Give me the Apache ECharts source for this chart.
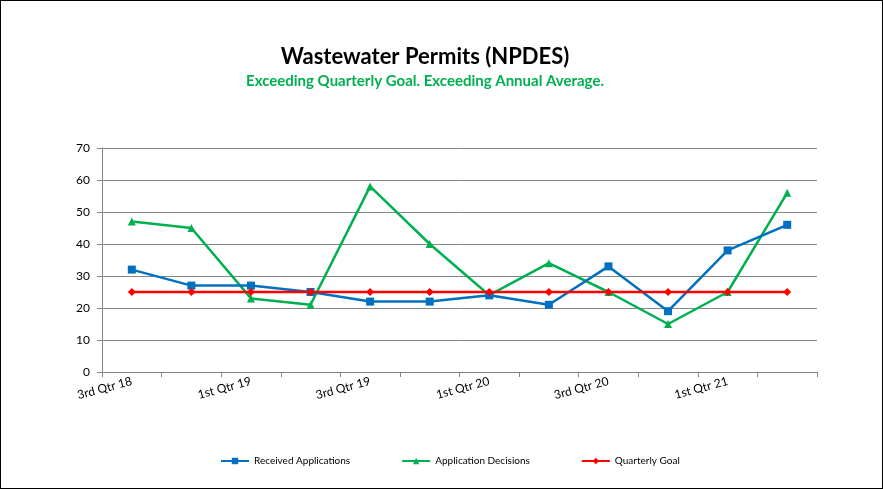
<!DOCTYPE html>
<html>
<head>
<meta charset="utf-8">
<script src="https://cdn.jsdelivr.net/npm/echarts@6/dist/echarts.min.js"></script>
<style>
html,body{margin:0;padding:0;background:#fff;}
#c{position:absolute;left:0;top:0;width:881px;height:487px;border:1px solid #000;}
</style>
</head>
<body>
<div id="c"></div>
<script>
const categories = ["3rd Qtr 18","4th Qtr 18","1st Qtr 19","2nd Qtr 19","3rd Qtr 19","4th Qtr 19","1st Qtr 20","2nd Qtr 20","3rd Qtr 20","4th Qtr 20","1st Qtr 21","2nd Qtr 21"];
const received = [32,27,27,25,22,22,24,21,33,19,38,46];
const decisions = [47,45,23,21,58,40,24,34,25,15,25,56];
const goal = [25,25,25,25,25,25,25,25,25,25,25,25];
const yTicks = [0,10,20,30,40,50,60,70];

const font = "Lato, 'Open Sans', sans-serif";
const chart = echarts.init(document.getElementById('c'));
chart.setOption({
  animation:false,
  textStyle:{fontFamily:font},
  title:[{
    text:"Wastewater Permits (NPDES)",
    left:419, top:40, textAlign:'center',
    textStyle:{fontSize:22,fontWeight:'bold',color:'#000',fontFamily:font},
    subtext:"Exceeding Quarterly Goal. Exceeding Annual Average.",
    subtextStyle:{fontSize:15,fontWeight:'bold',color:'#00B050',fontFamily:font},
    itemGap:6
  }],
  legend:{
    bottom:17, left:214,
    itemWidth:28, itemHeight:8, itemGap:51,
    textStyle:{fontSize:10,color:'#000',fontFamily:font},
    data:["Received Applications","Application Decisions","Quarterly Goal"]
  },
  grid:{left:101,right:65,top:147,bottom:116,containLabel:false},
  xAxis:{
    type:'category', data:categories, boundaryGap:true,
    axisLine:{lineStyle:{color:'#868686',width:1}},
    axisTick:{show:true,alignWithLabel:false,length:5,interval:0,lineStyle:{color:'#868686'}},
    axisLabel:{interval:1,rotate:15,fontSize:12,color:'#000',margin:9,fontFamily:font}
  },
  yAxis:{
    type:'value', min:0, max:70, interval:10,
    axisLine:{show:true,lineStyle:{color:'#868686',width:1}},
    axisTick:{show:true,length:5,lineStyle:{color:'#868686'}},
    axisLabel:{fontSize:12,color:'#000',margin:12,fontFamily:font,
      formatter:function(v){return yTicks.indexOf(v)>=0?String(v):'';}},
    splitLine:{lineStyle:{color:'#868686',width:1}}
  },
  series:[
    {name:"Received Applications",type:'line',data:received,
     symbol:'rect',symbolSize:8,lineStyle:{width:2.5,color:'#0070C0'},
     itemStyle:{color:'#0070C0'},z:3},
    {name:"Application Decisions",type:'line',data:decisions,
     symbol:'triangle',symbolSize:8,lineStyle:{width:2.5,color:'#00B050'},
     itemStyle:{color:'#00B050'},z:2},
    {name:"Quarterly Goal",type:'line',data:goal,
     symbol:'diamond',symbolSize:8,lineStyle:{width:2.5,color:'#FF0000'},
     itemStyle:{color:'#FF0000'},z:4}
  ]
});
</script>
</body>
</html>
